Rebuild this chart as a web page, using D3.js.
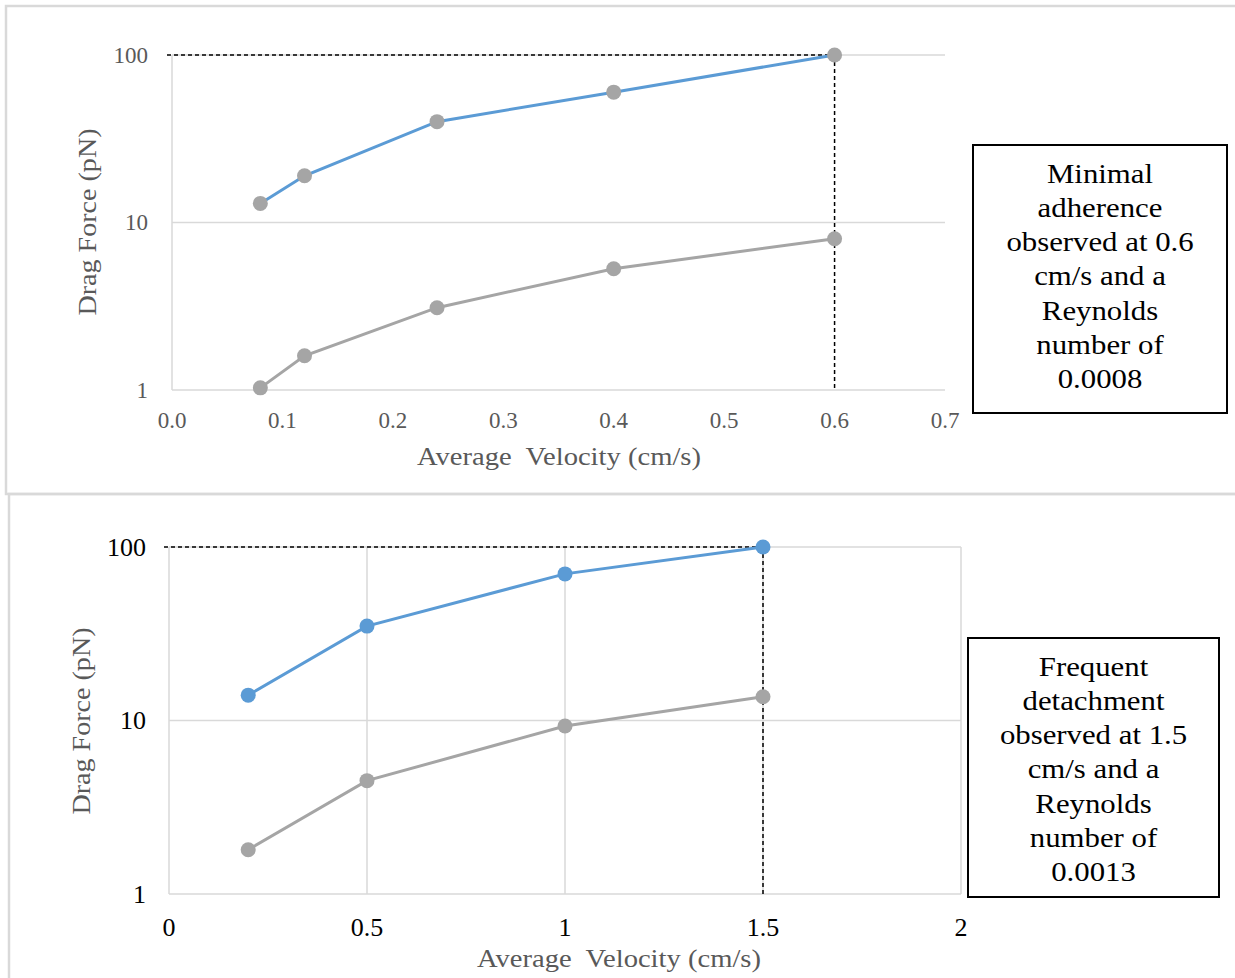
<!DOCTYPE html>
<html>
<head>
<meta charset="utf-8">
<script src="https://cdn.jsdelivr.net/npm/d3@7"></script>
<style>
  body { margin: 0; background: #fff; }
  svg { display: block; }
  svg text { font-family: "Liberation Serif", "Times New Roman", Times, serif; }
</style>
</head>
<body>
<div class="chart"></div>
<script>
// top panel data (minimal adherence run)
const topVelocity = [0.08, 0.12, 0.24, 0.4, 0.6];
const topUpper = [13, 19, 40, 60, 100];
const topLower = [1.03, 1.6, 3.1, 5.3, 8];
const topXTicks = [0, 0.1, 0.2, 0.3, 0.4, 0.5, 0.6, 0.7];

// bottom panel data (frequent detachment run)
const botVelocity = [0.2, 0.5, 1, 1.5];
const botUpper = [14, 35, 70, 100];
const botLower = [1.8, 4.5, 9.3, 13.7];
const botXTicks = [0, 0.5, 1, 1.5, 2];

const yTicks = [1, 10, 100];
const xTitle = "Average  Velocity (cm/s)";
const yTitle = "Drag Force (pN)";
const topNote = ["Minimal", "adherence", "observed at 0.6", "cm/s and a", "Reynolds", "number of", "0.0008"];
const botNote = ["Frequent", "detachment", "observed at 1.5", "cm/s and a", "Reynolds", "number of", "0.0013"];

const blue = "#5b9bd5", grey = "#a5a5a5", grid = "#d9d9d9";
const serif = "Liberation Serif";

const svg = d3.select(".chart")
  .append("svg")
  .attr("width", 1235)
  .attr("height", 978);

// panel frames
svg.append("rect").attr("x", 6).attr("y", 6).attr("width", 1240).attr("height", 488)
  .attr("fill", "none").attr("stroke", grid).attr("stroke-width", 2.5);
svg.append("rect").attr("x", 9).attr("y", 494).attr("width", 1240).attr("height", 500)
  .attr("fill", "none").attr("stroke", grid).attr("stroke-width", 2.5);

function drawPanel(cfg) {
  const g = svg.append("g");
  const x = d3.scaleLinear().domain(cfg.xDomain).range(cfg.xRange);
  const y = d3.scaleLog().domain([1, 100]).range(cfg.yRange);

  // gridlines
  g.selectAll("line.hgrid")
    .data(yTicks)
    .join("line")
    .attr("x1", x(cfg.xDomain[0])).attr("x2", x(cfg.xDomain[1]))
    .attr("y1", d => y(d)).attr("y2", d => y(d))
    .attr("stroke", grid).attr("stroke-width", 1.5);

  g.selectAll("line.vgrid")
    .data(cfg.vGrid)
    .join("line")
    .attr("x1", d => x(d)).attr("x2", d => x(d))
    .attr("y1", y(1)).attr("y2", y(100))
    .attr("stroke", grid).attr("stroke-width", 1.5);

  // tick labels
  g.selectAll("text.ytick")
    .data(yTicks)
    .join("text")
    .attr("x", x(cfg.xDomain[0]) - cfg.yTickGap)
    .attr("y", d => y(d))
    .attr("text-anchor", "end")
    .attr("dominant-baseline", "central")
    .attr("font-family", serif)
    .attr("font-size", cfg.tickSize)
    .attr("fill", cfg.tickColor)
    .text(d => d);

  g.selectAll("text.xtick")
    .data(cfg.xTicks)
    .join("text")
    .attr("x", d => x(d))
    .attr("y", cfg.xTickY)
    .attr("text-anchor", "middle")
    .attr("dominant-baseline", "central")
    .attr("font-family", serif)
    .attr("font-size", cfg.tickSize)
    .attr("fill", cfg.tickColor)
    .text(cfg.fmt);

  // axis titles
  g.append("text")
    .attr("transform", `translate(${cfg.xTitlePos[0]},${cfg.xTitlePos[1]}) scale(1.1,1)`)
    .attr("text-anchor", "middle")
    .attr("dominant-baseline", "central")
    .attr("font-family", serif)
    .attr("font-size", 26)
    .attr("fill", "#595959")
    .style("white-space", "pre")
    .text(xTitle);

  g.append("text")
    .attr("transform", `translate(${cfg.yTitlePos[0]},${cfg.yTitlePos[1]}) rotate(-90) scale(1.08,1)`)
    .attr("text-anchor", "middle")
    .attr("dominant-baseline", "central")
    .attr("font-family", serif)
    .attr("font-size", 26)
    .attr("fill", "#595959")
    .text(yTitle);

  // guide lines to the last point
  const last = cfg.vel[cfg.vel.length - 1];
  g.append("line")
    .attr("x1", x(cfg.xDomain[0]) - 5).attr("x2", x(last))
    .attr("y1", y(100)).attr("y2", y(100))
    .attr("stroke", "#000").attr("stroke-width", 1.5).attr("stroke-dasharray", "4,3");
  g.append("line")
    .attr("x1", x(last)).attr("x2", x(last))
    .attr("y1", y(100)).attr("y2", y(1))
    .attr("stroke", "#000").attr("stroke-width", 1.5).attr("stroke-dasharray", "4,3");

  // series
  const line = d3.line().x(d => x(d[0])).y(d => y(d[1]));
  const series = [
    { vals: cfg.lower, color: grey, marker: grey },
    { vals: cfg.upper, color: blue, marker: cfg.upperMarker }
  ];
  series.forEach(s => {
    const pts = cfg.vel.map((v, i) => [v, s.vals[i]]);
    g.append("path")
      .attr("d", line(pts))
      .attr("fill", "none")
      .attr("stroke", s.color)
      .attr("stroke-width", 3);
    g.selectAll(null)
      .data(pts)
      .join("circle")
      .attr("cx", d => x(d[0]))
      .attr("cy", d => y(d[1]))
      .attr("r", 7.5)
      .attr("fill", s.marker);
  });

  // annotation box
  const b = cfg.box;
  g.append("rect")
    .attr("x", b[0]).attr("y", b[1]).attr("width", b[2]).attr("height", b[3])
    .attr("fill", "#fff").attr("stroke", "#000").attr("stroke-width", 2);
  g.selectAll("text.note")
    .data(cfg.note)
    .join("text")
    .attr("transform", (d, i) => `translate(${b[0] + b[2] / 2},${b[1] + 28 + i * 34.3}) scale(1.1,1)`)
    .attr("text-anchor", "middle")
    .attr("dominant-baseline", "central")
    .attr("font-family", serif)
    .attr("font-size", 28)
    .attr("fill", "#000")
    .text(d => d);
}

drawPanel({
  xDomain: [0, 0.7], xRange: [172, 945], yRange: [390, 55],
  vGrid: [0],
  xTicks: topXTicks, fmt: d3.format(".1f"),
  tickSize: 23, tickColor: "#595959", yTickGap: 24, xTickY: 420,
  xTitlePos: [559, 456], yTitlePos: [87, 222],
  vel: topVelocity, upper: topUpper, lower: topLower, upperMarker: grey,
  box: [973, 145, 254, 268], note: topNote
});

drawPanel({
  xDomain: [0, 2], xRange: [169, 961], yRange: [894, 547],
  vGrid: [0, 0.5, 1, 1.5, 2],
  xTicks: botXTicks, fmt: d => d,
  tickSize: 26, tickColor: "#000", yTickGap: 23, xTickY: 927,
  xTitlePos: [619, 958], yTitlePos: [81, 721],
  vel: botVelocity, upper: botUpper, lower: botLower, upperMarker: blue,
  box: [968, 638, 251, 259], note: botNote
});
</script>
</body>
</html>
